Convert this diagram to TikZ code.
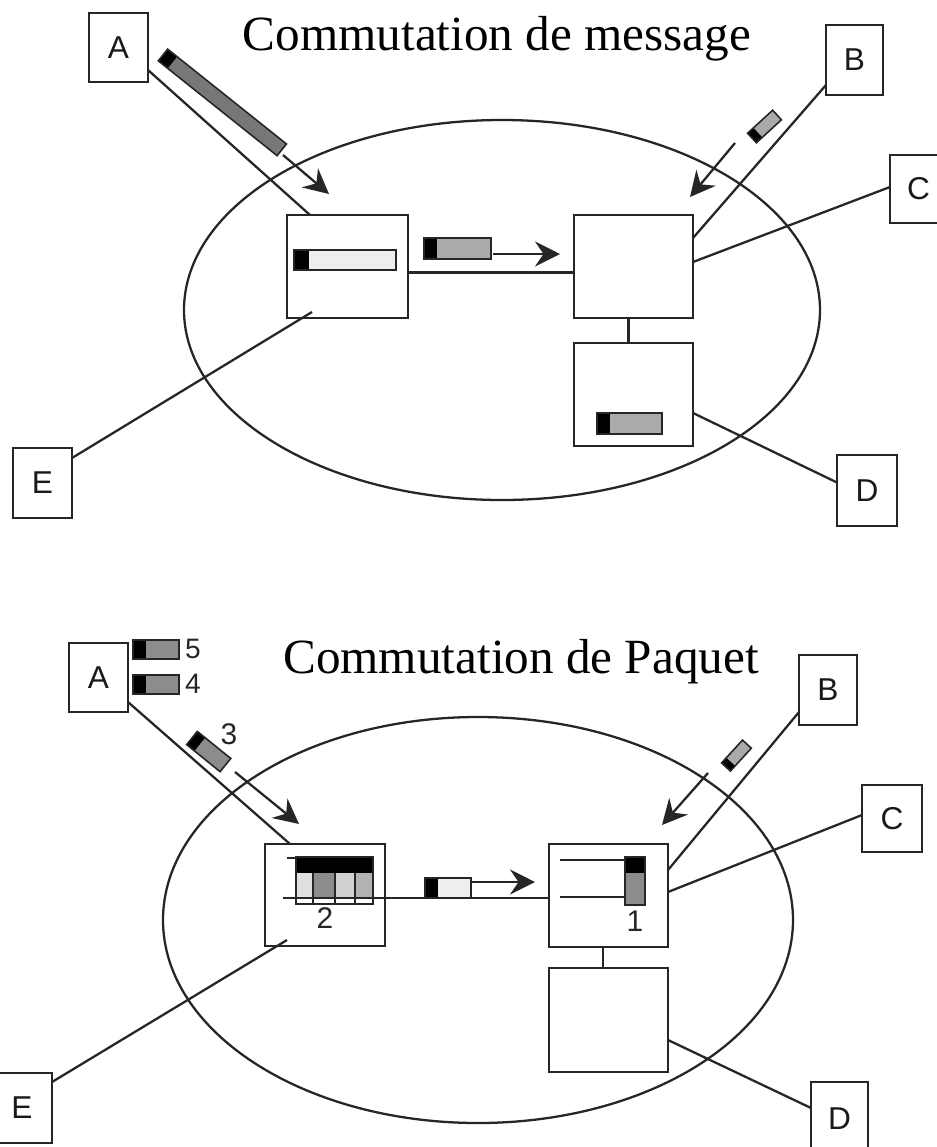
\documentclass[tikz,border=0pt]{standalone}
\usepackage{fontspec}
\setmainfont{Liberation Serif}
\newfontfamily\labelfont{Liberation Sans}
\usetikzlibrary{arrows.meta,fit,calc}

% packet: x, y, angle, length, width, length of black head, body colour
\newcommand{\pkt}[7]{%
  \begin{scope}[shift={(#1,#2)}, rotate=#3]
    \fill[#7] (0,-#5/2) rectangle (#4,#5/2);
    \fill[black] (0,-#5/2) rectangle (#6,#5/2);
    \draw[black!85, line width=0.9pt] (0,-#5/2) rectangle (#4,#5/2);
  \end{scope}}

\definecolor{pktdark}{HTML}{777777}
\definecolor{pktmid}{HTML}{8C8C8C}
\definecolor{pktgray}{HTML}{AAAAAA}
\definecolor{pktlight}{HTML}{EEEEEE}

\begin{document}
\begin{tikzpicture}[x=0.02cm, y=-0.02cm,
  box/.style={draw=black!85, line width=1.4pt, inner sep=0pt, outer sep=0pt},
  lab/.style={font=\labelfont\fontsize{18}{20}\selectfont, text=black!90, inner sep=0pt},
  link/.style={draw=black!85, line width=1.3pt},
  flow/.style={draw=black!85, line width=1.3pt,
               -{Stealth[length=0.5cm, width=0.5cm, inset=0.17cm]}},
  net/.style={draw=black!85, line width=1.3pt},
  title/.style={font=\fontsize{28}{32}\selectfont, anchor=base},
  num/.style={font=\labelfont\fontsize{17}{19}\selectfont, text=black!85, inner sep=0pt}]
\useasboundingbox (0,0) rectangle (937,1147);
\clip (0,0) rectangle (937,1147);

% ================= message switching =================
\node[title] (t1) at (497,50) {Commutation de message};
\draw[net] (502,310) ellipse [x radius=318, y radius=190];

\node[box, fit={(89,13) (148,82)}, label={[lab]center:A}] (A) {};
\node[box, fit={(826,25) (883,95)}, label={[lab]center:B}] (B) {};
\node[box, fit={(890,155) (947,223)}, label={[lab]center:C}] (C) {};
\node[box, fit={(837,455) (897,526)}, label={[lab]center:D}] (D) {};
\node[box, fit={(13,448) (72,518)}, label={[lab]center:E}] (E) {};
\node[box, fit={(287,215) (408,318)}] (S1) {};
\node[box, fit={(574,215) (693,318)}] (S2) {};
\node[box, fit={(574,343) (693,446)}] (S3) {};

\draw[link] ($(A.south east)+(0,-12)$) -- ($(S1.north west)+(23,0)$);
\draw[link] ($(E.north east)+(0,10)$) -- ($(S1.south west)+(25,-6)$);
\draw[link] ($(S1.east)+(0,6)$) -- ($(S2.west)+(0,6)$);
\draw[link] ($(S2.south)+(-5,0)$) -- ($(S3.north)+(-5,0)$);
\draw[link] ($(B.south west)+(0,-10)$) -- ($(S2.north east)+(0,23)$);
\draw[link] ($(C.west)+(0,-2)$) -- ($(S2.north east)+(0,47)$);
\draw[link] ($(D.west)+(0,-8)$) -- ($(S3.north east)+(0,70)$);

\coordinate (fa1) at (283,155); \coordinate (fa2) at (329,194);
\coordinate (fm1) at (493,254); \coordinate (fm2) at (560,254);
\coordinate (fb1) at (735,143); \coordinate (fb2) at (690,197);
\draw[flow] (fa1) -- (fa2);
\draw[flow] (fm1) -- (fm2);
\draw[flow] (fb1) -- (fb2);

\pkt{163}{55}{-38.6}{152}{15}{12}{pktdark}
\pkt{752}{138}{42.6}{34}{13}{8}{pktgray}
\pkt{294}{260}{0}{102}{20}{15}{pktlight}
\pkt{424}{248.5}{0}{67}{21}{13}{pktgray}
\pkt{597}{423.5}{0}{65}{21}{13}{pktgray}

% ================= packet switching =================
\node[title] (t2) at (521,673) {Commutation de Paquet};
\draw[net] (478,920) ellipse [x radius=315, y radius=203];

\node[box, fit={(69,643) (128,712)}, label={[lab]center:A}] (A2) {};
\node[box, fit={(799,655) (857,725)}, label={[lab]center:B}] (B2) {};
\node[box, fit={(862,785) (922,852)}, label={[lab]center:C}] (C2) {};
\node[box, fit={(811,1082) (868,1156)}, label={[lab]center:D}] (D2) {};
\node[box, fit={(-8,1073) (52,1143)}, label={[lab]center:E}] (E2) {};
\node[box, fit={(265,844) (385,946)}] (S4) {};
\node[box, fit={(549,844) (668,947)}] (S5) {};
\node[box, fit={(549,968) (668,1072)}] (S6) {};

\draw[link] ($(A2.south east)+(0,-10)$) -- ($(S4.north west)+(25,0)$);
\draw[link] ($(E2.north east)+(0,9)$) -- ($(S4.south west)+(22,-6)$);
\draw[link] ($(S4.east)+(0,3)$) -- ($(S5.west)+(0,2.5)$);
\draw[link] ($(S5.south)+(-5.5,0)$) -- ($(S6.north)+(-5.5,0)$);
\draw[link] ($(B2.south west)+(0,-13)$) -- ($(S5.north east)+(0,26)$);
\draw[link] ($(C2.west)+(0,-3.5)$) -- ($(S5.north east)+(0,48)$);
\draw[link] ($(D2.north west)+(0,26)$) -- ($(S6.north east)+(0,72)$);

\coordinate (ga1) at (235,772); \coordinate (ga2) at (299,824);
\coordinate (gm1) at (471,882); \coordinate (gm2) at (535,882);
\coordinate (gb1) at (708,773); \coordinate (gb2) at (662,825);
\draw[flow] (ga1) -- (ga2);
\draw[flow] (gm1) -- (gm2);
\draw[flow] (gb1) -- (gb2);

% packets waiting at A
\pkt{133}{649.5}{0}{46}{19}{13}{pktmid}
\pkt{133}{684.5}{0}{46}{19}{13}{pktmid}
\node[num, font=\labelfont\fontsize{16}{18}\selectfont] (n5) at (193,649) {5};
\node[num, font=\labelfont\fontsize{16}{18}\selectfont] (n4) at (193,684) {4};
\pkt{192}{738}{-39}{43}{17}{10}{pktmid}
\node[num] (n3) at (229,734) {3};
\pkt{726}{767}{47.6}{31}{12}{7}{pktgray}
\pkt{425}{888}{0}{46}{20}{13}{pktlight}

% queue in the first switch
\fill[black] (296,857) rectangle (373,873);
\fill[black!12] (296,873) rectangle (313,898);
\fill[black!45] (313,873) rectangle (335,898);
\fill[black!18] (335,873) rectangle (355,898);
\fill[black!30] (355,873) rectangle (373,898);
\draw[black!85, line width=0.9pt] (296,857) rectangle (373,904);
\foreach \cx in {313,335,355} \draw[black!85, line width=0.9pt] (\cx,873) -- (\cx,904);
\draw[link] (287,858) -- (296,858);
\draw[link] (283,898) -- (S4.east |- 0,898);
\node[num] (n2) at (325,918) {2};

% queue in the second switch
\draw[link] (560,860) -- (626,860);
\draw[link] (560,897) -- (626,897);
\pkt{635}{857}{-90}{48}{20}{16}{pktmid}
\node[num] (n1) at (635,921) {1};
\end{tikzpicture}
\end{document}
